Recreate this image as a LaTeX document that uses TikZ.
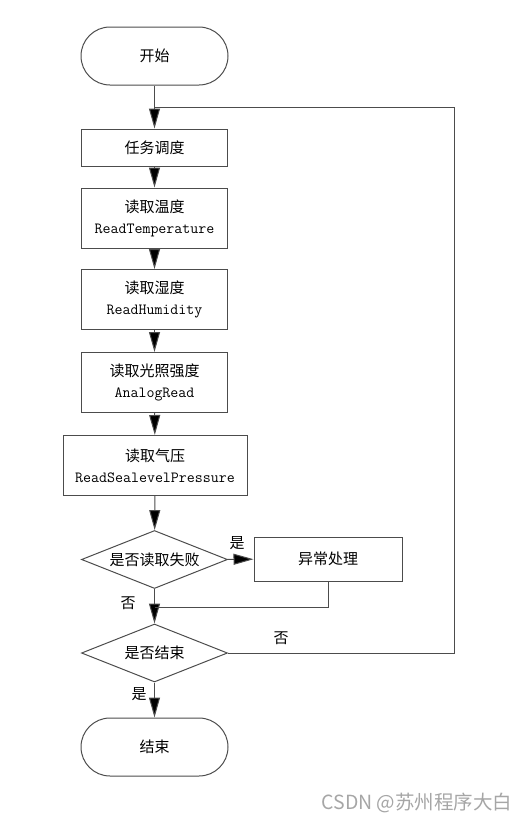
\documentclass[tikz,border=0pt]{standalone}
\usepackage{fontspec}
\setmainfont{Noto Sans CJK SC}
\usetikzlibrary{arrows.meta, shapes.geometric, calc, positioning}
\newcommand{\codeline}[1]{{\fontsize{15.5}{21}\ttfamily #1}}
\tikzset{
    my-text/.style={
        font=\fontsize{15}{21}\selectfont, align=center
    },
    my-terminal/.style={
        my-text, rectangle, draw=black!70, line width=1pt, rounded corners=29pt,
        minimum width=147pt, minimum height=58pt
    },
    my-box/.style={
        my-text, rectangle, draw=black!70, line width=1pt,
        minimum width=146pt, inner sep=2pt
    },
    my-decision/.style={
        my-text, diamond, draw=black!70, line width=1pt, shape aspect=2.5,
        inner sep=0pt, minimum width=146pt, minimum height=58pt
    },
    my-arrow/.style={
        draw=black!70, line width=1pt, -{Triangle[length=20pt, width=11pt, fill=black]}
    },
    my-wire/.style={
        draw=black!70, line width=1pt
    },
    my-tag/.style={
        font=\fontsize{15}{15}\selectfont, inner sep=0pt
    },
}

\begin{document}
\begin{tikzpicture}[x=1pt, y=-1pt]

        \useasboundingbox (0,0) rectangle (526,822);

        % TERMINALS
        \node[my-terminal]  (START)  at (154.5,56)   {开始};
        \node[my-terminal]  (END)    at (154.5,747)  {结束};

        % STEPS
        \node[my-box, minimum height=37pt]  (TASK)   at (154.5,147.5) {任务调度};
        \node[my-box, minimum height=60pt]  (TEMP)   at (154.5,218)   {读取温度\\\codeline{ReadTemperature}};
        \node[my-box, minimum height=60pt]  (HUM)    at (154.5,299.5) {读取湿度\\\codeline{ReadHumidity}};
        \node[my-box, minimum height=60pt]  (LIGHT)  at (154.5,382.5) {读取光照强度\\\codeline{AnalogRead}};
        \node[my-box, minimum height=60pt, minimum width=184pt] (PRESS) at (155,465.5) {读取气压\\\codeline{ReadSealevelPressure}};
        \node[my-box, minimum height=44pt, minimum width=148pt] (ERR)   at (328,559)   {异常处理};

        % DECISIONS
        \node[my-decision]  (FAIL)   at (154.5,559.5) {是否读取失败};
        \node[my-decision]  (ISEND)  at (154.5,653)   {是否结束};

        % WIRES OR CONNECTOR POINTS
        \coordinate         (JOIN)   at (154.5,107);
        \coordinate         (LOOP)   at (454,107);
        \coordinate         (MERGE)  at (154.5,607);

        % MAIN FLOW
        \draw[my-arrow] (START) -- (TASK);
        \draw[my-arrow] (TASK)  -- (TEMP);
        \draw[my-arrow] (TEMP)  -- (HUM);
        \draw[my-arrow] (HUM)   -- (LIGHT);
        \draw[my-arrow] (LIGHT) -- (PRESS);
        \draw[my-arrow] (PRESS) -- (FAIL);
        \draw[my-arrow] (FAIL)  -- (ERR);
        \draw[my-arrow] (FAIL)  -- (ISEND);
        \draw[my-arrow] (ISEND) -- (END);

        % BACK CONNECTIONS
        \draw[my-wire] (ERR.south) |- (MERGE);
        \draw[my-wire] (ISEND.east) -| (LOOP) -- (JOIN);

        % BRANCH LABELS
        \node[my-tag]   (YES1)  at (237,543)  {是};
        \node[my-tag]   (NO1)   at (128,603)  {否};
        \node[my-tag]   (NO2)   at (281,638)  {否};
        \node[my-tag]   (YES2)  at (139,694)  {是};

        % WATERMARK
        \node[font=\fontsize{19.5}{19.5}\selectfont, text=black!35, inner sep=0pt] (MARK) at (417,803) {CSDN @苏州程序大白};

    \end{tikzpicture}
\end{document}
